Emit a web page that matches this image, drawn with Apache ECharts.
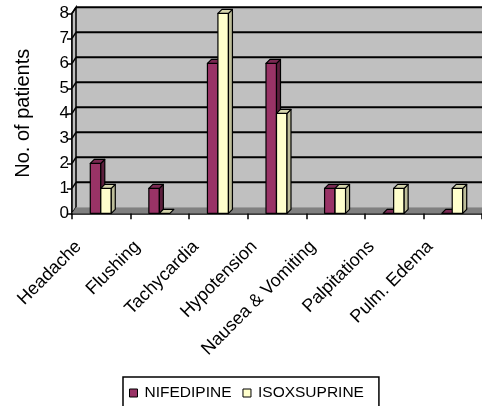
<!DOCTYPE html>
<html>
<head>
<meta charset="utf-8">
<script src="https://cdn.jsdelivr.net/npm/echarts@6/dist/echarts.min.js"></script>
<style>
  html, body { margin: 0; padding: 0; background: #ffffff; }
  #chart { width: 482px; height: 406px; }
</style>
</head>
<body>
<div id="chart"></div>
<script>
// Side effects reported per drug (number of patients)
const categories = ['Headache', 'Flushing', 'Tachycardia', 'Hypotension', 'Nausea & Vomiting', 'Palpitations', 'Pulm. Edema'];
const nifedipine = [2, 1, 6, 6, 1, 0, 0];
const isoxsuprine = [1, 0, 8, 4, 1, 1, 1];
const yTicks = [0, 1, 2, 3, 4, 5, 6, 7, 8];

const FONT = 'Arial, "Liberation Sans", sans-serif';
// 3D look: offset of the back wall and of the bar depth
const WALL_DX = 4, WALL_DY = -6;
const BAR_DX = 4, BAR_DY = -4;
const BAR_W = 10.5;

const faces = {
  nif: { front: '#993366', top: '#7a2952', side: '#5c1f3d' },
  iso: { front: '#ffffcc', top: '#d6d6ad', side: '#bdbd99' }
};

function renderWall(params, api) {
  const cs = params.coordSys;
  const x0 = cs.x, x1 = cs.x + cs.width;
  const yTop = cs.y, yBot = cs.y + cs.height;
  const children = [];
  // back wall
  children.push({
    type: 'polygon',
    shape: { points: [[x0 + WALL_DX, yTop + WALL_DY], [x1 + WALL_DX, yTop + WALL_DY], [x1 + WALL_DX, yBot + WALL_DY], [x0 + WALL_DX, yBot + WALL_DY]] },
    style: { fill: '#c0c0c0', stroke: null }
  });
  // left side wall
  children.push({
    type: 'polygon',
    shape: { points: [[x0, yTop], [x0 + WALL_DX, yTop + WALL_DY], [x0 + WALL_DX, yBot + WALL_DY], [x0, yBot]] },
    style: { fill: '#c0c0c0', stroke: '#000', lineWidth: 1.5 }
  });
  // floor
  children.push({
    type: 'polygon',
    shape: { points: [[x0, yBot], [x0 + WALL_DX, yBot + WALL_DY], [x1 + WALL_DX, yBot + WALL_DY], [x1, yBot]] },
    style: { fill: '#808080', stroke: null }
  });
  // gridlines on the back wall
  yTicks.forEach(function (v) {
    if (v === 0) return;
    const y = api.coord([0, v])[1] + WALL_DY;
    children.push({
      type: 'line',
      shape: { x1: x0, y1: y - WALL_DY, x2: x0 + WALL_DX, y2: y },
      style: { stroke: '#000', lineWidth: 1.5 }
    });
    children.push({
      type: 'line',
      shape: { x1: x0 + WALL_DX, y1: y, x2: x1 + WALL_DX, y2: y },
      style: { stroke: '#000', lineWidth: 2 }
    });
  });
  return { type: 'group', children: children };
}

function makeBarRenderer(offset, c) {
  return function (params, api) {
    const cat = api.value(0), val = api.value(1);
    const topPt = api.coord([cat, val]);
    const basePt = api.coord([cat, 0]);
    const xl = topPt[0] + offset, xr = xl + BAR_W;
    const yt = topPt[1], yb = basePt[1];
    const stroke = { stroke: '#000', lineWidth: 1.2, lineJoin: 'round' };
    const children = [];
    if (yb - yt > 0.5) {
      children.push({ type: 'polygon', shape: { points: [[xl, yt], [xr, yt], [xr, yb], [xl, yb]] }, style: Object.assign({ fill: c.front }, stroke) });
      children.push({ type: 'polygon', shape: { points: [[xr, yt], [xr + BAR_DX, yt + BAR_DY], [xr + BAR_DX, yb + BAR_DY], [xr, yb]] }, style: Object.assign({ fill: c.side }, stroke) });
    }
    children.push({ type: 'polygon', shape: { points: [[xl, yt], [xl + BAR_DX, yt + BAR_DY], [xr + BAR_DX, yt + BAR_DY], [xr, yt]] }, style: Object.assign({ fill: c.top }, stroke) });
    return { type: 'group', children: children };
  };
}

const chart = echarts.init(document.getElementById('chart'), null, { renderer: 'canvas' });

chart.setOption({
  animation: false,
  backgroundColor: '#ffffff',
  textStyle: { fontFamily: FONT, color: '#000' },
  grid: { left: 72, right: -8, top: 13.3, bottom: 192.7, containLabel: false },
  legend: {
    left: 123, top: 377,
    padding: [8, 15, 30, 6],
    borderColor: '#000', borderWidth: 1.5,
    itemGap: 11,
    itemWidth: 12, itemHeight: 8,
    icon: 'path://M0,0h10v10h-10z',
    textStyle: { fontFamily: FONT, fontSize: 15.5, color: '#000' },
    data: [
      { name: 'NIFEDIPINE', itemStyle: { color: faces.nif.front, borderColor: '#000', borderWidth: 1 } },
      { name: 'ISOXSUPRINE', itemStyle: { color: faces.iso.front, borderColor: '#000', borderWidth: 1 } }
    ]
  },
  xAxis: {
    type: 'category',
    data: categories,
    boundaryGap: true,
    axisLine: { show: true, lineStyle: { color: '#000', width: 1.5 } },
    axisTick: { show: true, length: 6, inside: false, lineStyle: { color: '#000', width: 1.5 } },
    axisLabel: {
      interval: 0, rotate: 45, margin: 8,
      padding: [0, 32, 0, 0],
      fontFamily: FONT, fontSize: 18, color: '#000'
    },
    splitLine: { show: false }
  },
  yAxis: {
    type: 'value',
    min: 0, max: 8, interval: 1,
    name: 'No. of patients',
    nameLocation: 'middle',
    nameRotate: 90,
    nameGap: 39,
    nameTextStyle: { fontFamily: FONT, fontSize: 20, color: '#000' },
    axisLine: { show: true, lineStyle: { color: '#000', width: 1.5 } },
    axisTick: { show: true, length: 5, lineStyle: { color: '#000', width: 1.5 } },
    axisLabel: { margin: 3, fontFamily: FONT, fontSize: 17, color: '#000' },
    splitLine: { show: false }
  },
  series: [
    {
      name: 'wall', type: 'custom', silent: true, z: 1,
      renderItem: renderWall,
      data: [[0, 0]],
      encode: { x: 0, y: 1 }
    },
    {
      name: 'NIFEDIPINE', type: 'custom', z: 3,
      itemStyle: { color: faces.nif.front },
      renderItem: makeBarRenderer(-BAR_W - 0.5, faces.nif),
      data: categories.map(function (c, i) { return [i, nifedipine[i]]; }),
      encode: { x: 0, y: 1 }
    },
    {
      name: 'ISOXSUPRINE', type: 'custom', z: 4,
      itemStyle: { color: faces.iso.front },
      renderItem: makeBarRenderer(-0.5, faces.iso),
      data: categories.map(function (c, i) { return [i, isoxsuprine[i]]; }),
      encode: { x: 0, y: 1 }
    }
  ]
});
</script>
</body>
</html>
